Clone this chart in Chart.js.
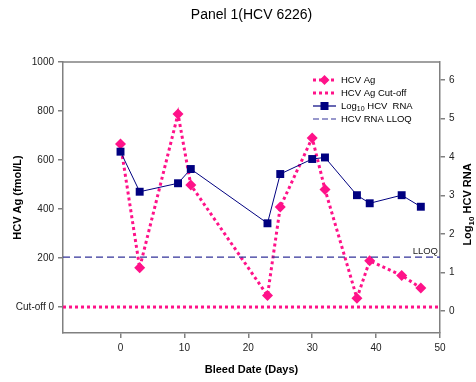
<!DOCTYPE html>
<html>
<head>
	<meta charset="UTF-8">
	<title>Panel 1(HCV 6226)</title>
	<script src="https://cdn.jsdelivr.net/npm/chart.js"></script>
	<style>
	body{margin:0; background:#fff;}
	div{width:476px; height:382px;}
	</style>
</head>
<body>
	<div>
	  <canvas id="myChart" width="476" height="382"></canvas>
	</div>
	<script>
	// data
	var days = [0, 3, 9, 11, 23, 25, 30, 32, 37, 39, 44, 47];
	var agValues = [665, 160, 788, 498, 47, 408, 690, 480, 36, 189, 129, 78];
	var rnaValues = [4.14, 3.10, 3.32, 3.69, 2.28, 3.56, 3.95, 3.99, 3.01, 2.80, 3.01, 2.71];
	var cutoffValue = 0;
	var lloqValue = 1.4;
	var xRange = [-9, 50];
	var xTicks = [0, 10, 20, 30, 40, 50];
	var agTicks = [0, 200, 400, 600, 800, 1000];
	var rnaTicks = [0, 1, 2, 3, 4, 5, 6];

	var pink = '#ff1289';
	var navy = '#000080';
	var lloqColor = '#333399';
	var axisColor = '#808080';
	var font = "'Liberation Sans', Arial, sans-serif";

	function pts(xs, ys){
		var out = [];
		for (var i = 0; i < xs.length; i++) out.push({x: xs[i], y: ys[i]});
		return out;
	}

	// top frame line, right axis title, LLOQ label, legend
	var extras = {
		id: 'extras',
		afterDraw: function(chart){
			var ctx = chart.ctx;
			var a = chart.chartArea;
			ctx.save();
			ctx.strokeStyle = axisColor;
			ctx.lineWidth = 1.5;
			ctx.beginPath();
			ctx.moveTo(a.left, a.top);
			ctx.lineTo(a.right, a.top);
			ctx.stroke();

			// right title, reads bottom to top
			ctx.fillStyle = '#000';
			ctx.translate(468, (a.top + a.bottom) / 2 + 7);
			ctx.rotate(-Math.PI / 2);
			ctx.textBaseline = 'middle';
			ctx.font = 'bold 11px ' + font;
			var w1 = ctx.measureText('Log').width;
			ctx.font = 'bold 8px ' + font;
			var w2 = ctx.measureText('10').width;
			ctx.font = 'bold 11px ' + font;
			var w3 = ctx.measureText(' HCV RNA').width;
			var sx = -(w1 + w2 + w3) / 2;
			ctx.fillText('Log', sx, 0);
			ctx.font = 'bold 8px ' + font;
			ctx.fillText('10', sx + w1, 4);
			ctx.font = 'bold 11px ' + font;
			ctx.fillText(' HCV RNA', sx + w1 + w2, 0);
			ctx.restore();

			// LLOQ label
			var yl = chart.scales.y2.getPixelForValue(lloqValue);
			ctx.save();
			ctx.fillStyle = '#222';
			ctx.font = '9.5px ' + font;
			ctx.textAlign = 'right';
			ctx.textBaseline = 'alphabetic';
			ctx.fillText('LLOQ', a.right - 2, yl - 3);
			ctx.restore();

			// legend
			var lx = 313, lw = 23, tx = 341;
			var rows = [80, 93, 106, 119];
			ctx.save();
			ctx.font = '9.5px ' + font;
			ctx.fillStyle = '#000';
			ctx.textBaseline = 'middle';

			ctx.strokeStyle = pink;
			ctx.lineWidth = 3;
			ctx.setLineDash([3, 3]);
			ctx.beginPath(); ctx.moveTo(lx, rows[0]); ctx.lineTo(lx + lw, rows[0]); ctx.stroke();
			ctx.beginPath(); ctx.moveTo(lx, rows[1]); ctx.lineTo(lx + lw, rows[1]); ctx.stroke();
			ctx.setLineDash([]);
			ctx.fillStyle = pink;
			var cx = lx + lw / 2;
			ctx.beginPath();
			ctx.moveTo(cx, rows[0] - 5); ctx.lineTo(cx + 5, rows[0]);
			ctx.lineTo(cx, rows[0] + 5); ctx.lineTo(cx - 5, rows[0]);
			ctx.closePath(); ctx.fill();

			ctx.strokeStyle = navy;
			ctx.lineWidth = 1.2;
			ctx.beginPath(); ctx.moveTo(lx, rows[2]); ctx.lineTo(lx + lw, rows[2]); ctx.stroke();
			ctx.fillStyle = navy;
			ctx.fillRect(cx - 4, rows[2] - 4, 8, 8);

			ctx.strokeStyle = lloqColor;
			ctx.setLineDash([6, 3]);
			ctx.beginPath(); ctx.moveTo(lx, rows[3]); ctx.lineTo(lx + lw, rows[3]); ctx.stroke();
			ctx.setLineDash([]);

			ctx.fillStyle = '#000';
			ctx.fillText('HCV Ag', tx, rows[0]);
			ctx.fillText('HCV Ag Cut-off', tx, rows[1]);
			var lg = ctx.measureText('Log').width;
			ctx.fillText('Log', tx, rows[2]);
			ctx.font = '7px ' + font;
			ctx.fillText('10', tx + lg, rows[2] + 3);
			var l10 = ctx.measureText('10').width;
			ctx.font = '9.5px ' + font;
			ctx.fillText(' HCV  RNA', tx + lg + l10, rows[2]);
			ctx.fillText('HCV RNA LLOQ', tx, rows[3]);
			ctx.restore();
		}
	};

	const ctx = document.getElementById('myChart');
	new Chart(ctx, {
		type: 'line',
		data: {
			datasets: [{
				label: 'Log10 HCV  RNA',
				data: pts(days, rnaValues),
				yAxisID: 'y2',
				borderColor: navy,
				borderWidth: 1,
				backgroundColor: navy,
				pointStyle: 'rect',
				pointRadius: 5.6,
				pointBorderWidth: 0,
				tension: 0
			}, {
				label: 'HCV RNA LLOQ',
				data: pts(xRange, [lloqValue, lloqValue]),
				yAxisID: 'y2',
				borderColor: lloqColor,
				borderWidth: 1.2,
				borderDash: [7, 4],
				pointRadius: 0
			}, {
				label: 'HCV Ag',
				data: pts(days, agValues),
				yAxisID: 'y',
				borderColor: pink,
				borderWidth: 3,
				borderDash: [3, 3],
				backgroundColor: pink,
				pointStyle: 'rectRot',
				pointRadius: 5.5,
				pointBorderWidth: 0,
				tension: 0
			}, {
				label: 'HCV Ag Cut-off',
				data: pts(xRange, [cutoffValue, cutoffValue]),
				yAxisID: 'y',
				borderColor: pink,
				borderWidth: 3,
				borderDash: [3, 3],
				pointRadius: 0
			}]
		},
		options: {
			responsive: false,
			animation: false,
			devicePixelRatio: 1,
			layout: { padding: 0 },
			plugins: {
				legend: { display: false },
				tooltip: { enabled: false },
				title: {
					display: true,
					text: 'Panel 1(HCV 6226)',
					fullSize: false,
					color: '#000',
					font: { family: font, size: 14, weight: 'normal' },
					padding: { top: 6.6, bottom: 38.6 }
				}
			},
			scales: {
				x: {
					type: 'linear',
					min: xRange[0],
					max: xRange[1],
					afterBuildTicks: function(s){ s.ticks = xTicks.map(function(v){ return {value: v}; }); },
					afterFit: function(s){ s.height = 49; },
					grid: { drawOnChartArea: false, drawTicks: true, tickLength: 5, color: axisColor, lineWidth: 1.5 },
					border: { color: axisColor, width: 1.5 },
					ticks: { color: '#222', font: { family: font, size: 10 }, padding: 4, maxRotation: 0 },
					title: { display: true, text: 'Bleed Date (Days)', color: '#000', font: { family: font, size: 11, weight: 'bold' }, padding: { top: 0, bottom: 5 } }
				},
				y: {
					position: 'left',
					min: -106,
					max: 1000,
					afterBuildTicks: function(s){ s.ticks = agTicks.map(function(v){ return {value: v}; }); },
					afterFit: function(s){ s.width = 63; },
					grid: { drawOnChartArea: false, drawTicks: true, tickLength: 5, color: axisColor, lineWidth: 1.5 },
					border: { color: axisColor, width: 1.5 },
					ticks: {
						color: '#222',
						font: { family: font, size: 10 },
						padding: 4,
						callback: function(v){ return v === 0 ? 'Cut-off 0' : v; }
					},
					title: { display: true, text: 'HCV Ag (fmol/L)', color: '#000', font: { family: font, size: 11, weight: 'bold' }, padding: { top: 11 } }
				},
				y2: {
					position: 'right',
					min: -0.57,
					max: 6.47,
					afterBuildTicks: function(s){ s.ticks = rnaTicks.map(function(v){ return {value: v}; }); },
					afterFit: function(s){ s.width = 36; },
					grid: { drawOnChartArea: false, drawTicks: true, tickLength: 5, color: axisColor, lineWidth: 1.5 },
					border: { color: axisColor, width: 1.5 },
					ticks: { color: '#222', font: { family: font, size: 10 }, padding: 4 }
				}
			}
		},
		plugins: [extras]
	});
	</script>
</body>
</html>
